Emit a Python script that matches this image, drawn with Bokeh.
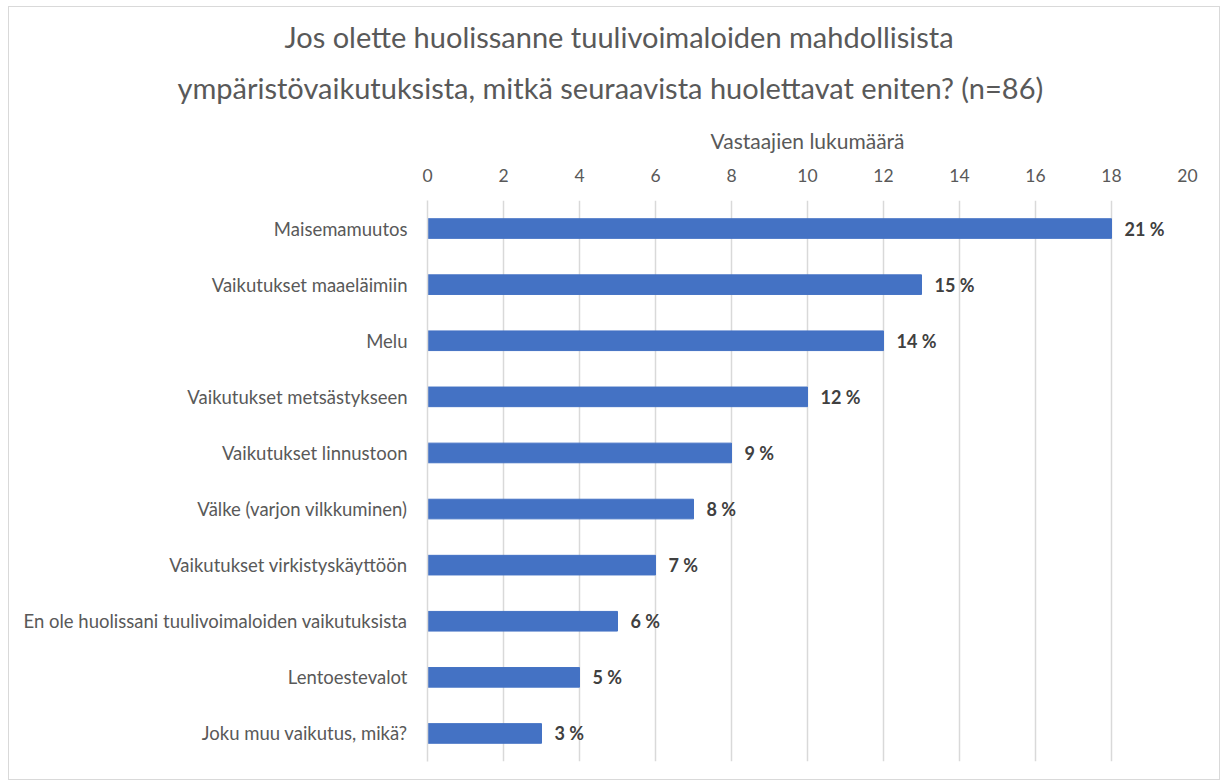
from bokeh.plotting import figure
from bokeh.models import ColumnDataSource, LinearAxis, FixedTicker, Range1d, FactorRange, Title
from bokeh.core.properties import value
from bokeh.embed import file_html
from bokeh.resources import INLINE

categories = [
    "Maisemamuutos",
    "Vaikutukset maaeläimiin",
    "Melu",
    "Vaikutukset metsästykseen",
    "Vaikutukset linnustoon",
    "Välke (varjon vilkkuminen)",
    "Vaikutukset virkistyskäyttöön",
    "En ole huolissani tuulivoimaloiden vaikutuksista",
    "Lentoestevalot",
    "Joku muu vaikutus, mikä?",
]
counts = [18, 13, 12, 10, 8, 7, 6, 5, 4, 3]
percent_labels = ["21 %", "15 %", "14 %", "12 %", "9 %", "8 %", "7 %", "6 %", "5 %", "3 %"]
x_ticks = [0, 2, 4, 6, 8, 10, 12, 14, 16, 18, 20]
title_line1 = "Jos olette huolissanne tuulivoimaloiden mahdollisista"
title_line2 = "ympäristövaikutuksista, mitkä seuraavista huolettavat eniten? (n=86)"
axis_title = "Vastaajien lukumäärä"

FONT = "Lato"
GREY = "#595959"

src = ColumnDataSource(dict(cat=categories, val=counts, lab=percent_labels))

p = figure(
    width=1212, height=774,
    y_range=FactorRange(factors=list(reversed(categories)), range_padding=0),
    x_range=Range1d(0, 20),
    x_axis_location=None,
    output_backend="svg", toolbar_location=None,
    min_border_left=418, min_border_right=34, min_border_top=193, min_border_bottom=20,
)
p.styles = {"border": "1px solid #D9D9D9", "margin-left": "8px", "margin-top": "6px"}
p.outline_line_color = None
p.background_fill_color = "white"
p.border_fill_color = "white"

xaxis = LinearAxis(
    ticker=FixedTicker(ticks=x_ticks),
    axis_label=axis_title,
    axis_line_color=None,
    major_tick_line_color=None,
    minor_tick_line_color=None,
    major_label_text_font=FONT,
    major_label_text_font_size="17.5px",
    major_label_text_color=GREY,
    major_label_standoff=13,
    axis_label_text_font=FONT,
    axis_label_text_font_size="21px",
    axis_label_text_color=GREY,
    axis_label_text_font_style="normal",
    axis_label_standoff=13,
)
p.add_layout(xaxis, "above")

title_style = dict(text_font=FONT, text_font_size="29px", text_font_style="normal",
                   text_color=GREY, align="left")
p.add_layout(Title(text=title_line2, offset=-250, standoff=40, **title_style), "above")
p.add_layout(Title(text=title_line1, offset=-143, standoff=-13, **title_style), "above")

p.xgrid.ticker = FixedTicker(ticks=x_ticks)
p.xgrid.grid_line_color = "#D9D9D9"
p.xgrid.grid_line_width = 1.5
p.ygrid.grid_line_color = None

yaxis = p.yaxis[0]
yaxis.axis_line_color = "#D9D9D9"
yaxis.axis_line_width = 1.5
yaxis.major_tick_line_color = None
yaxis.minor_tick_line_color = None
yaxis.major_label_text_font = FONT
yaxis.major_label_text_font_size = "18.5px"
yaxis.major_label_text_color = GREY
yaxis.major_label_standoff = 14

p.hbar(y="cat", right="val", left=0, height=0.35, source=src,
       fill_color="#4472C4", line_color="#4472C4")

p.text(x="val", y="cat", text="lab", source=src, x_offset=13,
       text_font=value(FONT), text_font_size="18px", text_font_style="bold",
       text_color="#404040", text_baseline="middle", text_align="left")

open("out.html", "w").write(file_html(p, INLINE))
